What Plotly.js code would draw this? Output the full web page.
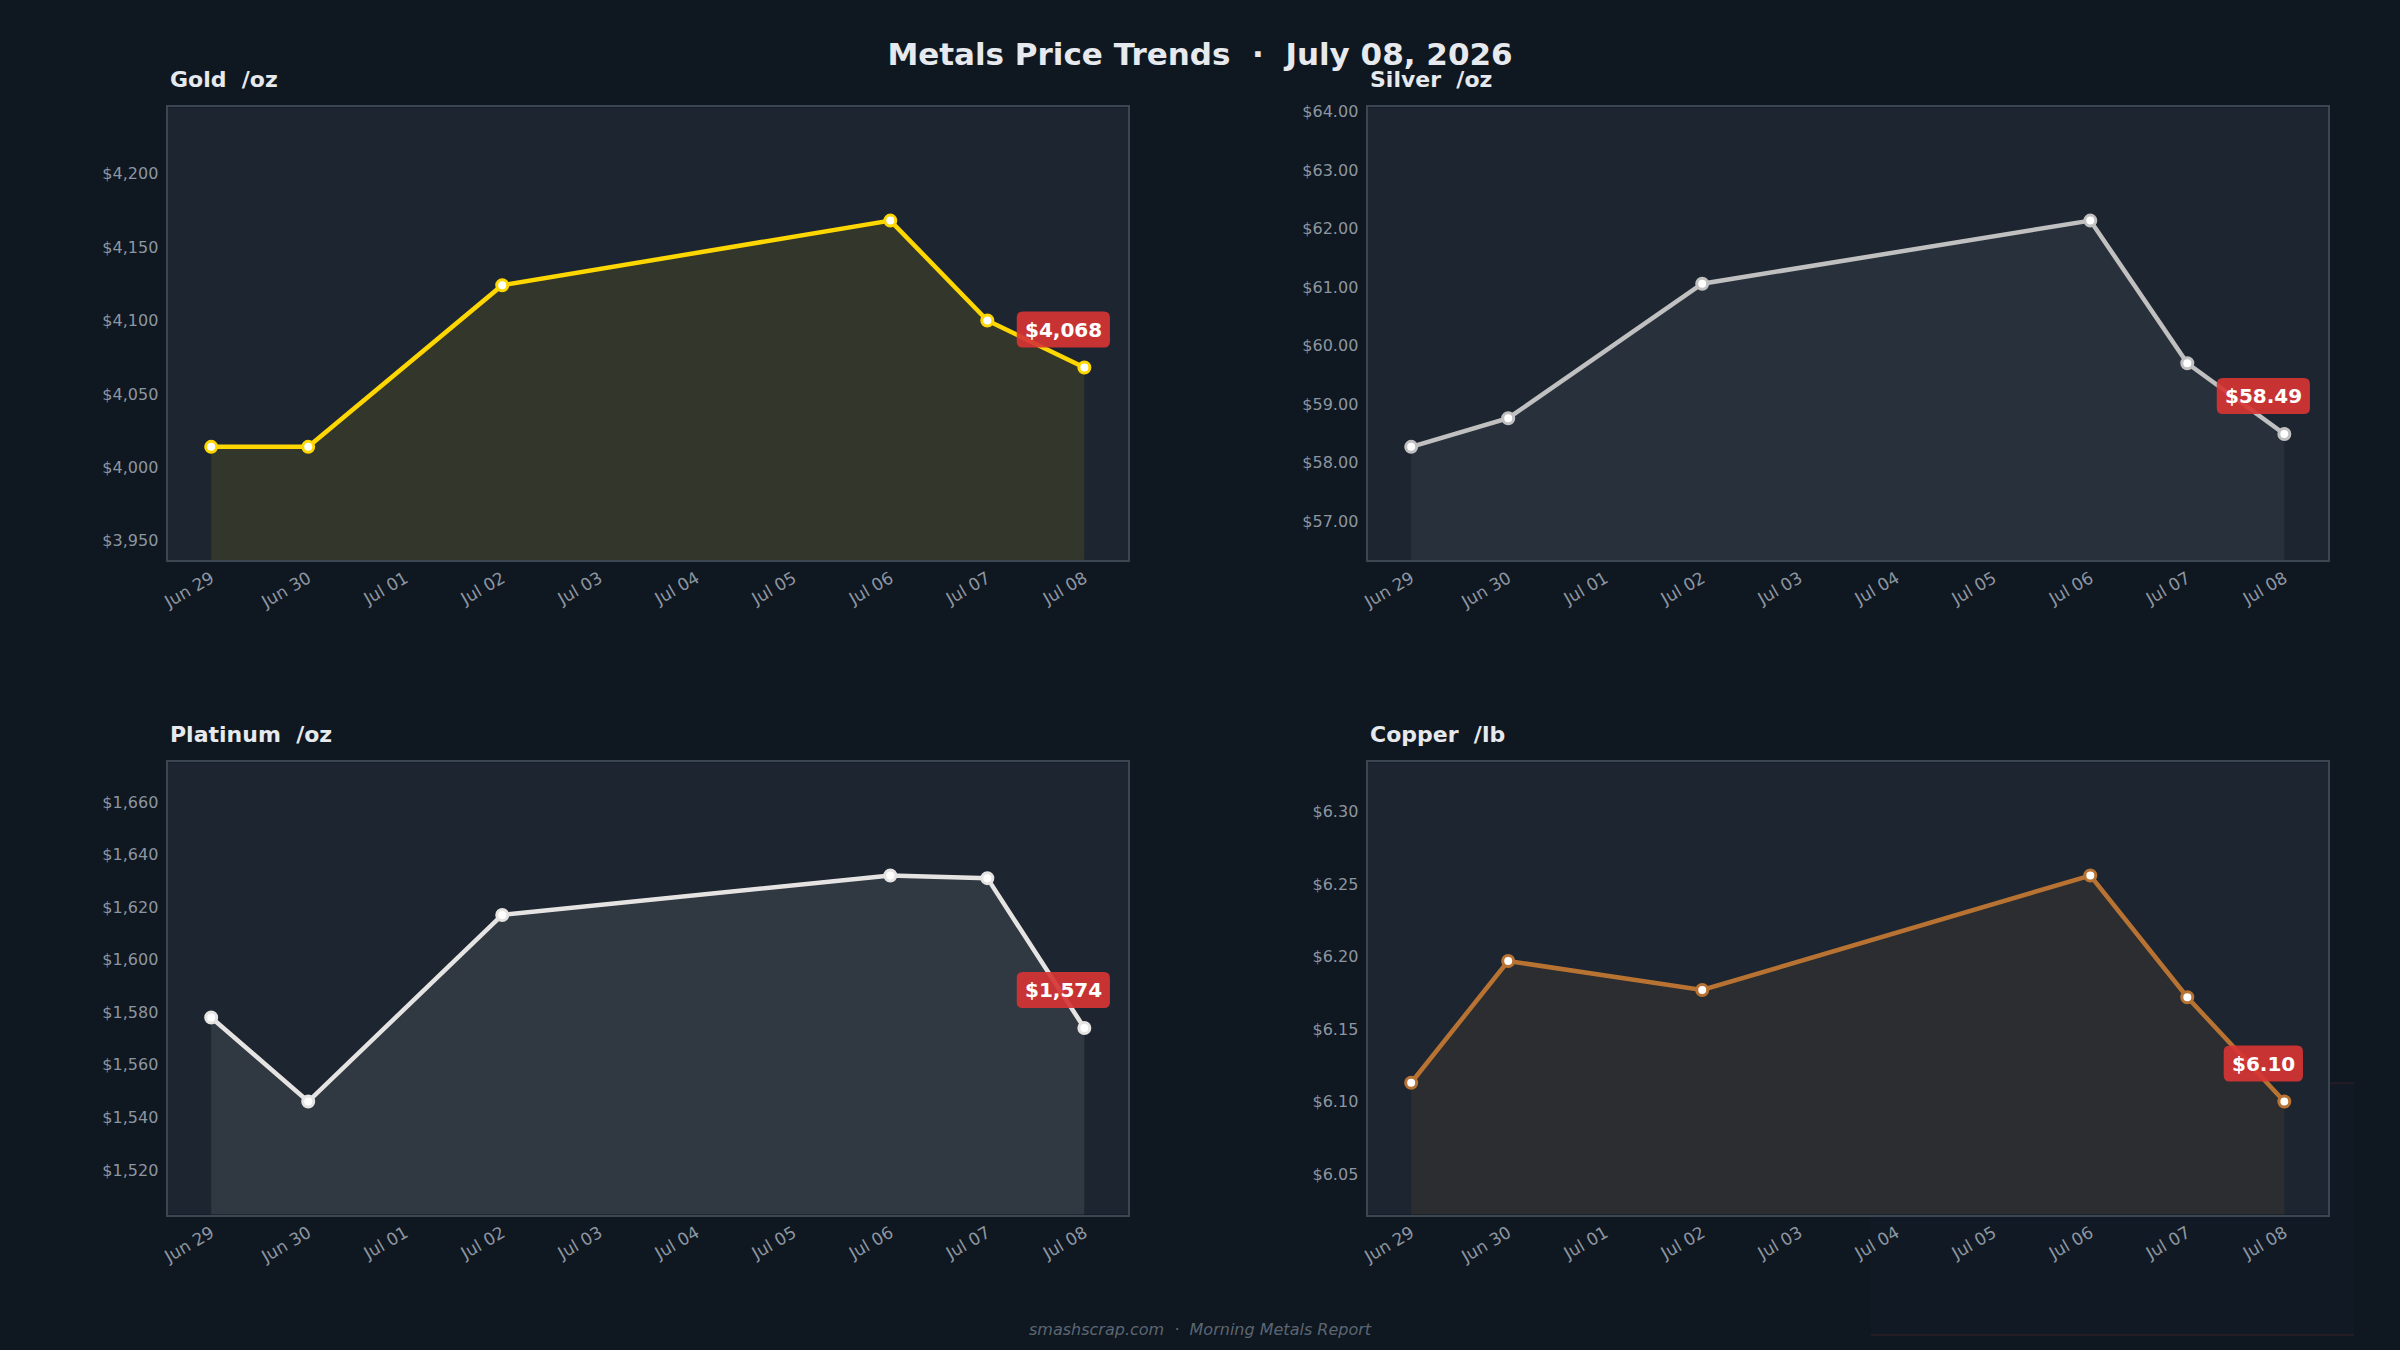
<!DOCTYPE html>
<html>
<head>
<meta charset="utf-8">
<script src="https://cdn.plot.ly/plotly-3.0.1.min.js"></script>
<style>
  html, body { margin: 0; padding: 0; background: #0f1720; }
  #chart { width: 2400px; height: 1350px; }
</style>
</head>
<body>
<div id="chart"></div>
<script>
// Trading days shown on every panel
const dates = ['2026-06-29', '2026-06-30', '2026-07-02', '2026-07-06', '2026-07-07', '2026-07-08'];

// Closing prices per metal (USD)
const goldPrices     = [4014, 4014, 4124, 4168, 4100, 4068];
const silverPrices   = [58.27, 58.76, 61.06, 62.14, 59.70, 58.49];
const platinumPrices = [1578, 1546, 1617, 1632, 1631, 1574];
const copperPrices   = [6.113, 6.197, 6.177, 6.256, 6.172, 6.10];

// Panel names and units
const metalNames = ['Gold', 'Silver', 'Platinum', 'Copper'];
const metalUnits = ['/oz', '/oz', '/oz', '/lb'];

const reportTitle = 'Metals Price Trends  ·  July 08, 2026';
const footerText  = 'smashscrap.com  ·  Morning Metals Report';

const FONT = 'DejaVu Sans, Verdana, sans-serif';
const PAPER = '#0f1720';
const PLOT  = '#1c2530';
const BORDER = '#3a4652';
const TICK = '#8d96a0';
const BADGE = 'rgba(214,52,52,0.92)';

const panels = [
  { values: goldPrices,     color: '#FFD700', fill: 'rgba(255,215,0,0.10)',   fmt: ',.0f', dtick: 50,   dec: 0, col: 0, row: 0 },
  { values: silverPrices,   color: '#C0C0C0', fill: 'rgba(192,192,192,0.08)', fmt: '.2f',  dtick: 1,    dec: 2, col: 1, row: 0 },
  { values: platinumPrices, color: '#E5E4E2', fill: 'rgba(229,228,226,0.10)', fmt: ',.0f', dtick: 20,   dec: 0, col: 0, row: 1 },
  { values: copperPrices,   color: '#B87333', fill: 'rgba(184,115,51,0.10)',  fmt: '.2f',  dtick: 0.05, dec: 2, col: 1, row: 1 }
];

// Panel placement (paper fractions)
const xDomains = [[0.0698, 0.470], [0.5698, 0.970]];
const yDomains = [[0.5852, 0.9204], [0.1003, 0.4352]];
const titleY   = [0.941, 0.4556];

const DAY = 86400000;
function toMs(d) { const p = d.split('-').map(Number); return Date.UTC(p[0], p[1] - 1, p[2]); }
function msToStr(ms) { return new Date(ms).toISOString().replace('T', ' ').replace('Z', ''); }
const xStart = msToStr(toMs(dates[0]) - 0.45 * DAY);
const xEnd   = msToStr(toMs(dates[dates.length - 1]) + 0.45 * DAY);

function money(v, dec) {
  return '$' + v.toLocaleString('en-US', { minimumFractionDigits: dec, maximumFractionDigits: dec });
}

// width of a badge label, measured with the badge font
const measureCtx = document.createElement('canvas').getContext('2d');
function textWidth(str, size) {
  measureCtx.font = 'bold ' + size + 'px "DejaVu Sans"';
  return measureCtx.measureText(str).width;
}

// rounded rectangle path in pixel offsets from an anchor (y up)
function roundedRect(cx, cy, w, h, r) {
  const x0 = cx - w / 2, x1 = cx + w / 2, y0 = cy - h / 2, y1 = cy + h / 2;
  return 'M' + (x0 + r) + ',' + y0 +
    ' L' + (x1 - r) + ',' + y0 + ' Q' + x1 + ',' + y0 + ' ' + x1 + ',' + (y0 + r) +
    ' L' + x1 + ',' + (y1 - r) + ' Q' + x1 + ',' + y1 + ' ' + (x1 - r) + ',' + y1 +
    ' L' + (x0 + r) + ',' + y1 + ' Q' + x0 + ',' + y1 + ' ' + x0 + ',' + (y1 - r) +
    ' L' + x0 + ',' + (y0 + r) + ' Q' + x0 + ',' + y0 + ' ' + (x0 + r) + ',' + y0 + ' Z';
}

const traces = [];
const layout = {
  width: 2400, height: 1350,
  paper_bgcolor: PAPER,
  plot_bgcolor: PLOT,
  margin: { l: 0, r: 0, t: 0, b: 0 },
  showlegend: false,
  font: { family: FONT, color: TICK },
  title: {
    text: '<b>' + reportTitle + '</b>',
    x: 0.5, xanchor: 'center', xref: 'paper',
    y: 0.960, yanchor: 'middle', yref: 'paper',
    font: { family: FONT, size: 31, color: '#e6e9ed' }
  },
  annotations: [],
  shapes: [
    // faint backdrop panel peeking out around the lower-right chart
    { type: 'rect', xref: 'paper', yref: 'paper', layer: 'below',
      x0: 1871 / 2400, x1: 2354 / 2400, y0: 1 - 1335 / 1350, y1: 1 - 1217 / 1350,
      fillcolor: 'rgba(24,34,46,0.25)', line: { width: 0 } },
    { type: 'rect', xref: 'paper', yref: 'paper', layer: 'below',
      x0: 2330 / 2400, x1: 2354 / 2400, y0: 1 - 1217 / 1350, y1: 1 - 1083 / 1350,
      fillcolor: 'rgba(24,34,46,0.25)', line: { width: 0 } },
    { type: 'line', xref: 'paper', yref: 'paper', layer: 'below',
      x0: 1871 / 2400, x1: 2354 / 2400, y0: 1 - 1335 / 1350, y1: 1 - 1335 / 1350,
      line: { color: 'rgba(200,60,60,0.16)', width: 1.5 } },
    { type: 'line', xref: 'paper', yref: 'paper', layer: 'below',
      x0: 2330 / 2400, x1: 2354 / 2400, y0: 1 - 1083 / 1350, y1: 1 - 1083 / 1350,
      line: { color: 'rgba(200,60,60,0.14)', width: 1.5 } }
  ]
};

panels.forEach((p, i) => {
  const n = i + 1;
  const xa = 'x' + (n === 1 ? '' : n);
  const ya = 'y' + (n === 1 ? '' : n);
  const xKey = 'xaxis' + (n === 1 ? '' : n);
  const yKey = 'yaxis' + (n === 1 ? '' : n);

  const lo = Math.min(...p.values), hi = Math.max(...p.values);
  const pad = 0.5 * (hi - lo);

  traces.push({
    type: 'scatter', mode: 'lines+markers',
    x: dates, y: p.values,
    xaxis: xa, yaxis: ya,
    fill: 'tozeroy', fillcolor: p.fill,
    line: { color: p.color, width: 4.5 },
    marker: { size: 11, color: '#ffffff', line: { color: p.color, width: 3 } },
    hoverinfo: 'x+y'
  });

  layout[xKey] = {
    domain: xDomains[p.col], anchor: ya,
    type: 'date', range: [xStart, xEnd],
    tick0: dates[0], dtick: DAY, tickformat: '%b %d', tickangle: -30,
    tickfont: { family: FONT, size: 17, color: TICK },
    showgrid: false, zeroline: false,
    showline: true, mirror: true, linecolor: BORDER, linewidth: 2,
    ticks: '', ticklen: 0
  };
  layout[yKey] = {
    domain: yDomains[p.row], anchor: xa,
    range: [lo - pad, hi + pad],
    dtick: p.dtick, tickprefix: '$', tickformat: p.fmt,
    tickfont: { family: FONT, size: 16, color: TICK },
    showgrid: false, zeroline: false,
    showline: true, mirror: true, linecolor: BORDER, linewidth: 2,
    ticks: '', ticklabelstandoff: 4
  };

  // panel heading
  layout.annotations.push({
    xref: 'paper', yref: 'paper',
    x: xDomains[p.col][0], y: titleY[p.row],
    xanchor: 'left', yanchor: 'middle',
    text: '<b>' + metalNames[i] + '  ' + metalUnits[i] + '</b>',
    showarrow: false,
    font: { family: FONT, size: 22, color: '#e6e9ed' }
  });

  // latest price badge: rounded box plus label
  const last = p.values[p.values.length - 1];
  const label = money(last, p.dec);
  const lastDate = dates[dates.length - 1];
  const bw = textWidth(label, 20) + 16;
  layout.shapes.push({
    type: 'path', layer: 'above',
    xref: xa, yref: ya,
    xsizemode: 'pixel', ysizemode: 'pixel',
    xanchor: lastDate, yanchor: last,
    path: roundedRect(-21, 38, bw, 36, 6),
    fillcolor: BADGE, line: { width: 0 }
  });
  layout.annotations.push({
    xref: xa, yref: ya,
    x: lastDate, y: last,
    xanchor: 'center', yanchor: 'middle',
    xshift: -21, yshift: 38,
    text: '<b>' + label + '</b>',
    showarrow: false,
    font: { family: FONT, size: 20, color: '#ffffff' }
  });
});

// footer credit
layout.annotations.push({
  xref: 'paper', yref: 'paper',
  x: 0.5, y: 1 - 1329 / 1350,
  xanchor: 'center', yanchor: 'middle',
  text: '<i>' + footerText + '</i>',
  showarrow: false,
  font: { family: FONT, size: 16, color: '#5c6672' }
});

Plotly.newPlot('chart', traces, layout, { displayModeBar: false, staticPlot: true });
</script>
</body>
</html>
